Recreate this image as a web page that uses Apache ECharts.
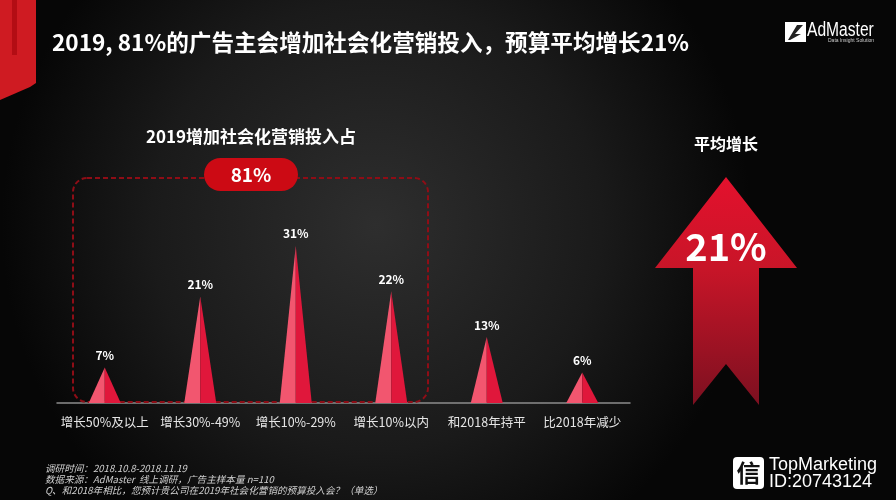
<!DOCTYPE html>
<html>
<head>
<meta charset="utf-8">
<style>
  html, body { margin: 0; padding: 0; background: #111; }
  #chart { width: 896px; height: 500px; }
</style>
<script src="https://cdn.jsdelivr.net/npm/echarts@6/dist/echarts.min.js"></script>
</head>
<body>
<div id="chart"></div>
<script>
// ---- data ----
const categories = ['增长50%及以上', '增长30%-49%', '增长10%-29%', '增长10%以内', '和2018年持平', '比2018年减少'];
const values = [7, 21, 31, 22, 13, 6];
const titleText = '2019, 81%的广告主会增加社会化营销投入，预算平均增长21%';
const subTitleText = '2019增加社会化营销投入占';
const increaseShare = '81%';
const avgTitle = '平均增长';
const avgGrowth = '21%';
const notes = [
  '调研时间：2018.10.8-2018.11.19',
  '数据来源：AdMaster  线上调研，广告主样本量 n=110',
  'Q、和2018年相比，您预计贵公司在2019年社会化营销的预算投入会？（单选）'
];

const FONT = '"Noto Sans CJK SC", "Noto Sans", sans-serif';
const chart = echarts.init(document.getElementById('chart'), null, { renderer: 'canvas' });

const option = {
  backgroundColor: {
    type: 'radial', x: 0.42, y: 0.45, r: 0.75,
    colorStops: [
      { offset: 0, color: '#2e2e2e' },
      { offset: 0.6, color: '#1a1a1a' },
      { offset: 1, color: '#060606' }
    ]
  },
  animation: false,
  textStyle: { fontFamily: FONT },
  grid: { left: 57, right: 266, top: 200, bottom: 97 },
  xAxis: {
    type: 'category',
    data: categories,
    axisLine: { lineStyle: { color: '#8c8c8c', width: 1.5 } },
    axisTick: { show: false },
    axisLabel: { interval: 0, color: '#e6e6e6', fontSize: 12.5, margin: 13, fontFamily: FONT }
  },
  yAxis: {
    type: 'value', min: 0, max: 40, show: false,
    splitLine: { show: false }
  },
  series: [
    {
      type: 'pictorialBar',
      data: values,
      barWidth: 32,
      barGap: '-100%',
      symbol: 'path://M0,100 L50,0 L50,100 Z',
      symbolSize: [16, '100%'],
      symbolOffset: [-8, 0],
      itemStyle: { color: '#f2566f' },
      z: 3
    },
    {
      type: 'pictorialBar',
      data: values,
      barWidth: 32,
      barGap: '-100%',
      symbol: 'path://M0,0 L50,100 L0,100 Z',
      symbolSize: [16, '100%'],
      symbolOffset: [8, 0],
      itemStyle: { color: '#e0173b' },
      label: {
        show: true, position: 'top', distance: 6,
        formatter: '{c}%', color: '#ffffff', fontSize: 12, fontWeight: 'bold', fontFamily: FONT
      },
      z: 3
    }
  ],
  graphic: [
    // left red stripe
    { type: 'polygon', shape: { points: [[0, 0], [36, 0], [36, 83], [30, 87], [0, 100]] }, style: { fill: '#cf1b22' }, z: 1 },
    { type: 'rect', shape: { x: 12, y: 0, width: 5, height: 55 }, style: { fill: '#b30d14' }, z: 2 },
    // title
    { type: 'text', left: 52, top: 31, style: { text: titleText, fill: '#ffffff', font: 'bold 22.6px ' + FONT }, z: 5 },
    // AdMaster logo
    { type: 'rect', shape: { x: 785, y: 22, width: 21, height: 20 }, style: { fill: '#ffffff' }, z: 5 },
    { type: 'polygon', shape: { points: [[788, 40], [797, 25], [803, 25], [795, 34], [801, 34], [790, 40]] }, style: { fill: '#222' }, z: 6 },
    { type: 'text', x: 807, y: 20, scaleX: 0.78, style: { text: 'AdMaster', fill: '#ffffff', font: '20px "Liberation Sans", sans-serif' }, z: 5 },
    { type: 'text', x: 828, y: 38, style: { text: 'Data Insight Solution', fill: '#cccccc', font: '5px "Liberation Sans", sans-serif' }, z: 5 },
    // subtitle
    { type: 'text', x: 251, y: 137, style: { text: subTitleText, fill: '#ffffff', font: 'bold 17px ' + FONT, align: 'center', verticalAlign: 'middle' }, z: 5 },
    // dashed box
    { type: 'rect', shape: { x: 73, y: 178, width: 355, height: 224, r: 14 }, style: { fill: 'none', stroke: '#8e0d16', lineWidth: 2, lineDash: [5, 3] }, z: 2 },
    // badge
    { type: 'rect', shape: { x: 204, y: 158, width: 94, height: 33, r: 16.5 }, style: { fill: '#cc0a14' }, z: 4 },
    { type: 'text', x: 251, y: 175, style: { text: increaseShare, fill: '#ffffff', font: 'bold 19px ' + FONT, align: 'center', verticalAlign: 'middle' }, z: 5 },
    // right side arrow
    { type: 'text', x: 726, y: 144, style: { text: avgTitle, fill: '#ffffff', font: 'bold 16px ' + FONT, align: 'center', verticalAlign: 'middle' }, z: 5 },
    {
      type: 'polygon',
      shape: { points: [[726, 177], [797, 268], [759, 268], [759, 405], [726, 364], [693, 405], [693, 268], [655, 268]] },
      style: {
        fill: {
          type: 'linear', x: 0, y: 0, x2: 0, y2: 1,
          colorStops: [
            { offset: 0, color: '#e4112d' },
            { offset: 0.4, color: '#c81528' },
            { offset: 1, color: '#7c1020' }
          ]
        }
      },
      z: 3
    },
    { type: 'text', x: 726, y: 247, style: { text: avgGrowth, fill: '#ffffff', font: 'bold 38px ' + FONT, align: 'center', verticalAlign: 'middle' }, z: 5 },
    // footnotes
    { type: 'text', left: 45, top: 464, style: { text: notes[0], fill: '#d0d0d0', font: 'italic 9.6px ' + FONT }, z: 5 },
    { type: 'text', left: 45, top: 475, style: { text: notes[1], fill: '#d0d0d0', font: 'italic 9.6px ' + FONT }, z: 5 },
    { type: 'text', left: 45, top: 486, style: { text: notes[2], fill: '#d0d0d0', font: 'italic 9.6px ' + FONT }, z: 5 },
    // watermark
    { type: 'rect', shape: { x: 733, y: 457, width: 31, height: 32, r: 4 }, style: { fill: '#ffffff' }, z: 5 },
    { type: 'text', x: 748.5, y: 473, style: { text: '信', fill: '#111111', font: 'bold 24px ' + FONT, align: 'center', verticalAlign: 'middle' }, z: 6 },
    { type: 'text', left: 769, top: 456, style: { text: 'TopMarketing', fill: '#ffffff', font: '18px "Liberation Sans", sans-serif' }, z: 5 },
    { type: 'text', left: 769, top: 473, style: { text: 'ID:20743124', fill: '#ffffff', font: '18px "Liberation Sans", sans-serif' }, z: 5 }
  ]
};
chart.setOption(option);
</script>
</body>
</html>
